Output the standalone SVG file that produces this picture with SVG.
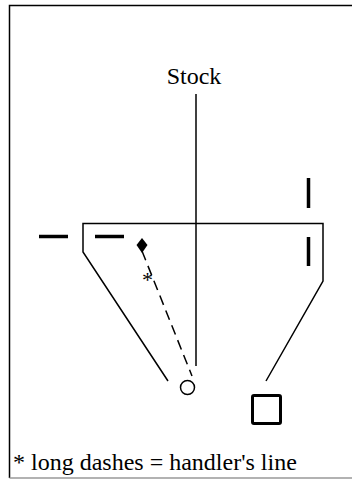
<svg xmlns="http://www.w3.org/2000/svg" width="352" height="479" viewBox="0 0 352 479">
<style>
.ln{fill:none;stroke:#000;stroke-width:1.5}
.bar{fill:none;stroke:#000;stroke-width:3.5}
text{font-family:'Liberation Serif','Times New Roman',Times,serif;fill:#000}
</style>
<rect width="352" height="479" fill="#fff"/>
<g id="frame">
<path class="ln" d="M353,5.5 H9.5 V478"/>
<line x1="9.5" y1="478" x2="353" y2="478" stroke="#999" stroke-width="1.5"/>
</g>
<g id="stock">
<text x="194" y="84" font-size="24" text-anchor="middle">Stock</text>
<line class="ln" x1="196" y1="94" x2="196" y2="366"/>
</g>
<g id="pen">
<path class="ln" d="M168,381 L83,252 V223.5 H323 V281 L266,381"/>
</g>
<g id="panels">
<line class="bar" x1="39" y1="236.5" x2="68" y2="236.5"/>
<line class="bar" x1="95" y1="236.5" x2="124" y2="236.5"/>
<line class="bar" x1="308.5" y1="178" x2="308.5" y2="208"/>
<line class="bar" x1="308.5" y1="237" x2="308.5" y2="266"/>
</g>
<g id="connectors">
<line class="ln" x1="142" y1="251" x2="192" y2="376" stroke-dasharray="10,6"/>
</g>
<g id="handler">
<path d="M142,238 L147.5,245 L142,253 L136.5,245 Z" fill="#000"/>
<text x="147.5" y="287" font-size="22" text-anchor="middle">*</text>
</g>
<g id="sheep">
<circle class="ln" cx="187.5" cy="387.5" r="7"/>
</g>
<g id="dog">
<rect x="252.5" y="395.5" width="28" height="28" rx="1.5" fill="none" stroke="#000" stroke-width="3"/>
</g>
<g id="legend">
<text x="13" y="470" font-size="24">* long dashes = handler's line</text>
</g>
</svg>
